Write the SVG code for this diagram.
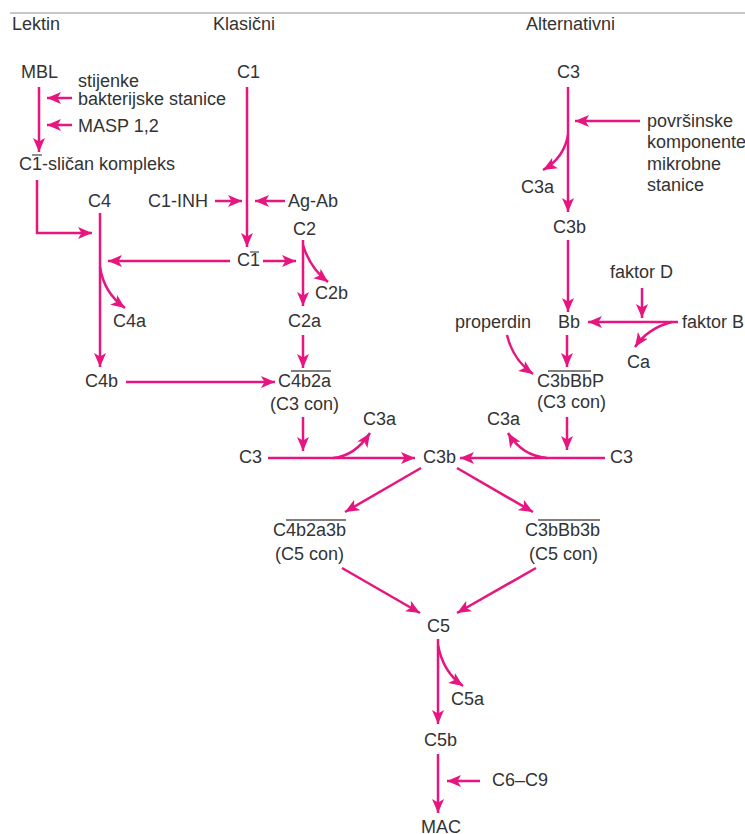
<svg xmlns="http://www.w3.org/2000/svg" width="745" height="834" viewBox="0 0 745 834">
<style>
text{font-family:"Liberation Sans",Arial,sans-serif;font-size:18px;fill:#333}
.h{font-size:18px}
.c{fill:none;stroke:#e6157f;stroke-width:2.5;marker-end:url(#ah)}
.n{fill:none;stroke:#e6157f;stroke-width:2.5}
.o{stroke:#555;stroke-width:1.3}
</style>
<defs>
<marker id="ah" markerUnits="userSpaceOnUse" markerWidth="15" markerHeight="13" refX="14" refY="6.5" orient="auto">
<path d="M0,0.5 L14,6.5 L0,12.5 L3.5,6.5 Z" fill="#e6157f"/>
</marker>
</defs>
<rect width="745" height="834" fill="#fff"/>
<line x1="10" y1="13" x2="745" y2="13" stroke="#c8c8c8" stroke-width="2"/>
<g id="headers">
<text class="h" x="12" y="30">Lektin</text>
<text class="h" x="213" y="30">Klasični</text>
<text class="h" x="526" y="30">Alternativni</text>
</g>
<g id="connectors">
<path class="c" d="M39,87 V152"/>
<path class="c" d="M72,98 H47"/>
<path class="c" d="M72,125 H47"/>
<path class="c" d="M37,180 V233 H92"/>
<path class="c" d="M100,213 V367"/>
<path class="c" d="M100,267 Q104,293 125,308"/>
<path class="c" d="M126,382 H275"/>
<path class="c" d="M247,87 V247"/>
<path class="c" d="M215,201 H242"/>
<path class="c" d="M285,201 H255"/>
<path class="c" d="M230,261 H108"/>
<path class="c" d="M263,261 H296"/>
<path class="c" d="M303,240 V306"/>
<path class="c" d="M303,245 Q310,268 328,282"/>
<path class="c" d="M303,335 V368"/>
<path class="c" d="M303,417 V451"/>
<path class="c" d="M268,458 H415"/>
<path class="c" d="M333,458 Q355,456 370,433"/>
<path class="c" d="M568,87 V212"/>
<path class="c" d="M640,121 H575"/>
<path class="c" d="M568,135 Q564,158 543,170"/>
<path class="c" d="M568,240 V312"/>
<path class="c" d="M642,288 V318"/>
<path class="c" d="M678,322 H588"/>
<path class="c" d="M672,322 Q648,328 635,347"/>
<path class="c" d="M507,335 Q513,360 533,374"/>
<path class="c" d="M567,335 V367"/>
<path class="c" d="M567,417 V450"/>
<path class="c" d="M605,458 H460"/>
<path class="c" d="M547,458 Q522,456 508,433"/>
<path class="c" d="M421,468 L345,512"/>
<path class="c" d="M457,468 L533,512"/>
<path class="c" d="M342,568 L420,613"/>
<path class="c" d="M536,568 L457,613"/>
<path class="c" d="M438,639 V724"/>
<path class="c" d="M438,645 Q443,672 463,686"/>
<path class="c" d="M438,754 V813"/>
<path class="c" d="M480,781 H447"/>
</g>
<g id="MBL"><text x="21" y="78">MBL</text></g>
<g id="stijenke"><text x="78" y="87">stijenke</text><text x="78" y="105">bakterijske stanice</text></g>
<g id="MASP"><text x="78" y="132">MASP 1,2</text></g>
<g id="C1-slican"><text x="19" y="170">C1-sličan kompleks</text><line class="o" x1="32" y1="155" x2="42" y2="155"/></g>
<g id="C4"><text x="88" y="207">C4</text></g>
<g id="C4a"><text x="113" y="327">C4a</text></g>
<g id="C4b"><text x="85" y="387">C4b</text></g>
<g id="C1"><text x="237" y="78">C1</text></g>
<g id="C1-INH"><text x="148" y="207">C1-INH</text></g>
<g id="Ag-Ab"><text x="288" y="207">Ag-Ab</text></g>
<g id="C1bar"><text x="237" y="266">C1</text><line class="o" x1="250" y1="252" x2="259" y2="252"/></g>
<g id="C2"><text x="293" y="235">C2</text></g>
<g id="C2b"><text x="315" y="299">C2b</text></g>
<g id="C2a"><text x="288" y="327">C2a</text></g>
<g id="C4b2a"><text x="278" y="387">C4b2a</text><line class="o" x1="291" y1="371" x2="331" y2="371"/><text x="270" y="410">(C3 con)</text></g>
<g id="C3-left"><text x="239" y="463">C3</text></g>
<g id="C3a-left"><text x="363" y="425">C3a</text></g>
<g id="C3b-center"><text x="423" y="463">C3b</text></g>
<g id="C3a-right"><text x="487" y="425">C3a</text></g>
<g id="C3-right"><text x="610" y="463">C3</text></g>
<g id="C3-alt"><text x="557" y="78">C3</text></g>
<g id="povrsinske"><text x="647" y="127">površinske</text><text x="647" y="148">komponente</text><text x="647" y="170">mikrobne</text><text x="647" y="191">stanice</text></g>
<g id="C3a-alt"><text x="521" y="193">C3a</text></g>
<g id="C3b-alt"><text x="553" y="233">C3b</text></g>
<g id="faktorD"><text x="610" y="278">faktor D</text></g>
<g id="Bb"><text x="558" y="328">Bb</text></g>
<g id="faktorB"><text x="682" y="328">faktor B</text></g>
<g id="Ca"><text x="627" y="368">Ca</text></g>
<g id="properdin"><text x="455" y="328">properdin</text></g>
<g id="C3bBbP"><text x="537" y="387">C3bBbP</text><line class="o" x1="548" y1="371" x2="591" y2="371"/><text x="537" y="408">(C3 con)</text></g>
<g id="C4b2a3b"><text x="273" y="536">C4b2a3b</text><line class="o" x1="286" y1="520" x2="346" y2="520"/><text x="275" y="560">(C5 con)</text></g>
<g id="C3bBb3b"><text x="525" y="536">C3bBb3b</text><line class="o" x1="538" y1="520" x2="600" y2="520"/><text x="529" y="560">(C5 con)</text></g>
<g id="C5"><text x="427" y="632">C5</text></g>
<g id="C5a"><text x="451" y="705">C5a</text></g>
<g id="C5b"><text x="424" y="746">C5b</text></g>
<g id="C6-C9"><text x="492" y="786">C6–C9</text></g>
<g id="MAC"><text x="421" y="833">MAC</text></g>
</svg>
